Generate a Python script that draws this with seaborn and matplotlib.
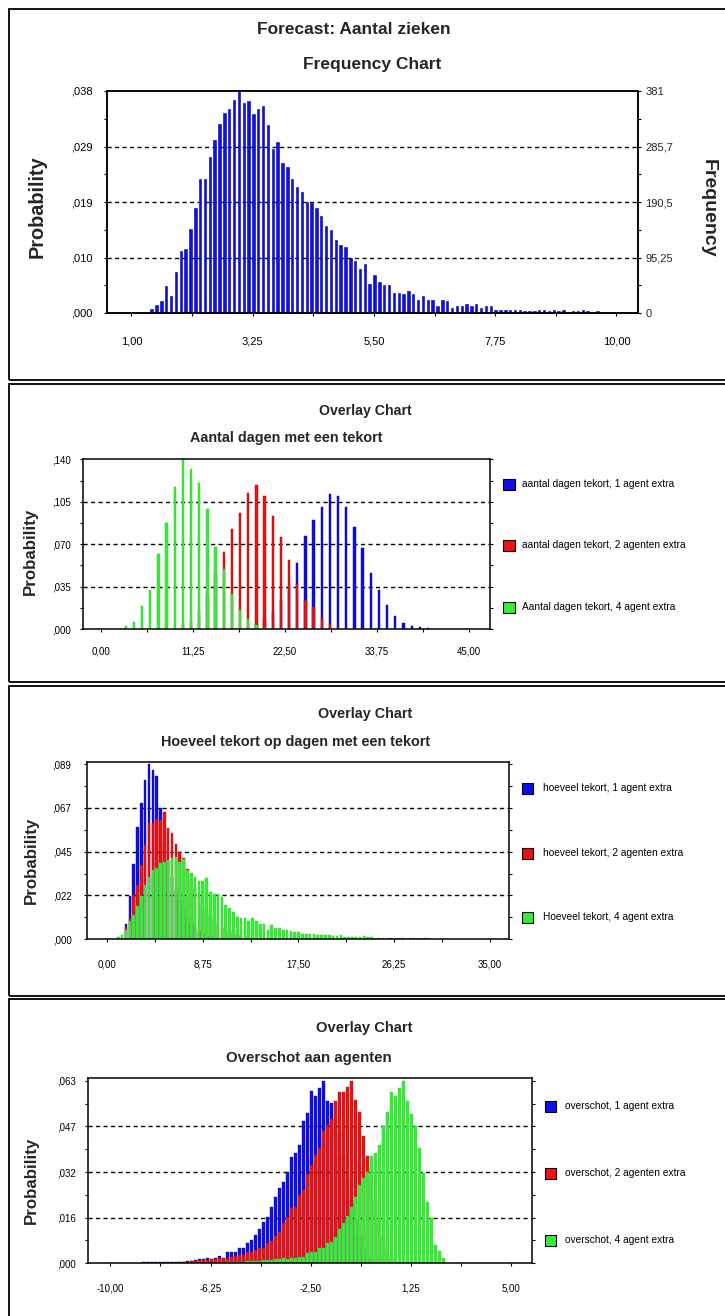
import numpy as np
import pandas as pd
import matplotlib
matplotlib.use("Agg")
import matplotlib.pyplot as plt
from matplotlib.patches import Rectangle
import seaborn as sns

# ---------------- DATA ----------------
# Panel 1: Forecast "Aantal zieken" (frequency counts out of 10000 trials)
p1_bin_start = 1.375
p1_bin_width = 0.0899
p1_counts = [7, 13, 20, 46, 29, 70, 106, 110, 145, 181, 230, 230, 267, 297, 324, 344,
             350, 366, 381, 361, 364, 342, 350, 355, 322, 281, 293, 258, 250, 230, 217,
             208, 191, 188, 180, 167, 150, 142, 126, 117, 114, 94, 89, 76, 84, 50, 65, 54,
             48, 48, 35, 35, 32, 38, 32, 23, 29, 23, 23, 12, 23, 20, 9, 12, 12, 15, 12,
             15, 9, 12, 12, 5, 6, 5, 6, 6, 6, 4, 4, 4, 6, 5, 4, 6, 4, 6, 0, 4, 4, 6, 4, 0, 3]
p1_xticks = [1.00, 3.25, 5.50, 7.75, 10.00]
p1_xticklabels = ["1,00", "3,25", "5,50", "7,75", "10,00"]
p1_yticks = [0, 95.25, 190.5, 285.75, 381]
p1_prob_labels = [",000", ",010", ",019", ",029", ",038"]
p1_freq_labels = ["0", "95,25", "190,5", "285,7", "381"]

# Panel 2: Aantal dagen met een tekort (probability per number of days)
p2_days = list(range(3, 41))
p2_agent1 = [0]*15 + [0.002, 0.004, 0.008, 0.014, 0.024, 0.035, 0.0542, 0.0767, 0.0899,
                      0.1009, 0.1114, 0.1097, 0.1009, 0.0839, 0.0666, 0.0465, 0.0322,
                      0.0198, 0.0107, 0.0047, 0.0025, 0.0014, 0.0005]
p2_agent2 = [0]*7 + [0.003, 0.006, 0.015, 0.028, 0.045, 0.0638, 0.0822, 0.0954, 0.1125,
                     0.1188, 0.1097, 0.0932, 0.0756, 0.0569, 0.0371, 0.0239, 0.0184,
                     0.0088, 0.0041, 0.002, 0.0005] + [0]*10
p2_agent4 = [0.0025, 0.0055, 0.019, 0.032, 0.0616, 0.0872, 0.1174, 0.140, 0.1318, 0.1208,
             0.099, 0.0674, 0.0495, 0.0289, 0.0157, 0.0083, 0.0033, 0.001] + [0]*20
p2_xticks = [0, 11.25, 22.5, 33.75, 45]
p2_xticklabels = ["0,00", "11,25", "22,50", "33,75", "45,00"]
p2_yticks = [0, 0.035, 0.070, 0.105, 0.140]
p2_yticklabels = [",000", ",035", ",070", ",105", ",140"]
p2_labels = ["aantal dagen tekort, 1 agent extra", "aantal dagen tekort, 2 agenten extra",
             "Aantal dagen tekort, 4 agent extra"]

# Panel 3: Hoeveel tekort op dagen met een tekort
p3_bin_start = 1.03
p3_bin_width = 0.351
p3_agent1 = [0, 0, 0.0077, 0.022, 0.0383, 0.0574, 0.0697, 0.0813, 0.0893, 0.0864, 0.083,
             0.0668, 0.05, 0.04, 0.032, 0.025, 0.02, 0.015, 0.011, 0.008, 0.006, 0.004,
             0.003, 0.002, 0.0015, 0.001] + [0]*56
p3_agent2 = [0, 0, 0.0063, 0.0106, 0.0228, 0.0276, 0.0378, 0.0481, 0.0591, 0.0591, 0.0613,
             0.0608, 0.0651, 0.0569, 0.054, 0.0484, 0.0446, 0.0415, 0.036, 0.03, 0.026,
             0.022, 0.018, 0.015, 0.012, 0.01, 0.008, 0.006, 0.005, 0.004, 0.003, 0.002,
             0.002, 0.0015, 0.001] + [0]*47
p3_agent4 = [0.0012, 0.002, 0.0049, 0.0094, 0.0126, 0.0169, 0.022, 0.0276, 0.0319, 0.0353,
             0.0361, 0.0387, 0.0395, 0.0404, 0.0412, 0.0421, 0.0395, 0.0409, 0.0353, 0.0336,
             0.0319, 0.0297, 0.0297, 0.0314, 0.0239, 0.0233, 0.0233, 0.0216, 0.0177, 0.016,
             0.014, 0.0114, 0.0111, 0.0106, 0.0095, 0.0106, 0.0094, 0.008, 0.008, 0.0049,
             0.0072, 0.0058, 0.0058, 0.0046, 0.0046, 0.0041, 0.0037, 0.0037, 0.0029, 0.0026,
             0.0025, 0.0025, 0.0022, 0.0022, 0.002, 0.002, 0.0017, 0.0017, 0.002, 0.001,
             0.001, 0.001, 0.0013, 0.0013, 0.0017, 0.001, 0.001, 0, 0.0008, 0.0008, 0.0008,
             0.0008, 0, 0, 0.0007, 0, 0.0007, 0.0007, 0, 0, 0.0007, 0.0007]
p3_xticks = [0, 8.75, 17.5, 26.25, 35]
p3_xticklabels = ["0,00", "8,75", "17,50", "26,25", "35,00"]
p3_yticks = [0, 0.02233, 0.04465, 0.06698, 0.0893]
p3_yticklabels = [",000", ",022", ",045", ",067", ",089"]
p3_labels = ["hoeveel tekort, 1 agent extra", "hoeveel tekort, 2 agenten extra",
             "Hoeveel tekort, 4 agent extra"]

# Panel 4: Overschot aan agenten
p4_bin_start = -8.77
p4_bin_width = 0.15
p4_agent1 = [0.0003, 0.0003, 0.0003, 0.0003, 0.0003, 0.0003, 0.0005, 0.0006, 0.0006, 0.0006,
             0.0006, 0.0008, 0.0008, 0.0012, 0.0014, 0.0014, 0.002, 0.0016, 0.0017, 0.0027,
             0.002, 0.004, 0.004, 0.004, 0.0052, 0.0054, 0.0069, 0.0079, 0.0098, 0.0118,
             0.0142, 0.0162, 0.0196, 0.0228, 0.026, 0.0281, 0.0318, 0.037, 0.0381, 0.041,
             0.0493, 0.052, 0.0597, 0.0578, 0.0609, 0.0632, 0.0562, 0.0554, 0.05, 0.045,
             0.038, 0.03, 0.022, 0.015, 0.009, 0.005, 0.002, 0.001] + [0]*18
p4_agent2 = [0]*9 + [0.0003, 0.0006, 0.0006, 0.0008, 0.0008, 0.001, 0.0012, 0.001, 0.0014,
                     0.0014, 0.0017, 0.002, 0.002, 0.0023, 0.0025, 0.0029, 0.0029, 0.004,
                     0.004, 0.0046, 0.0052, 0.0054, 0.0069, 0.0078, 0.0095, 0.0109, 0.0138,
                     0.0162, 0.019, 0.0196, 0.0237, 0.0254, 0.031, 0.034, 0.0375, 0.040,
                     0.046, 0.048, 0.050, 0.0562, 0.0593, 0.0593, 0.061, 0.0632, 0.0566,
                     0.0525, 0.0441, 0.0372, 0.03, 0.022, 0.015, 0.009, 0.005, 0.002] + [0]*13
p4_agent4 = [0]*21 + [0.0003, 0.0003, 0.0005, 0.0006, 0.0006, 0.0008, 0.0008, 0.0008, 0.0009,
                      0.001, 0.0011, 0.0012, 0.0014, 0.0015, 0.002, 0.0015, 0.0017, 0.002,
                      0.0023, 0.0023, 0.0035, 0.0038, 0.004, 0.0052, 0.0054, 0.0069, 0.0075,
                      0.0092, 0.0119, 0.0139, 0.0165, 0.0196, 0.0231, 0.0271, 0.0295, 0.0318,
                      0.0372, 0.0381, 0.041, 0.0477, 0.0523, 0.0595, 0.0578, 0.0609, 0.0632,
                      0.0562, 0.0516, 0.0474, 0.0401, 0.0312, 0.0211, 0.0156, 0.0063, 0.0043,
                      0.002]
p4_xticks = [-10, -6.25, -2.5, 1.25, 5]
p4_xticklabels = ["-10,00", "-6,25", "-2,50", "1,25", "5,00"]
p4_yticks = [0, 0.0158, 0.0316, 0.0474, 0.0632]
p4_yticklabels = [",000", ",016", ",032", ",047", ",063"]
p4_labels = ["overschot, 1 agent extra", "overschot, 2 agenten extra", "overschot, 4 agent extra"]

# ---------------- STYLE ----------------
sns.set_theme(style="white")
plt.rcParams['font.family'] = ['Liberation Sans', 'DejaVu Sans']
NARROW = ['Liberation Sans Narrow', 'Liberation Sans', 'DejaVu Sans']

BLUE, BLUE_E = '#0E0EF0', '#000090'
RED, RED_E = '#F01212', '#A00000'
GREEN, GREEN_E = '#36EE36', '#26C826'

W, H = 725, 1316
fig = plt.figure(figsize=(W / 100, H / 100), dpi=100)
fig.patch.set_facecolor('white')


def add_axes(l, r, t, b):
    return fig.add_axes([l / W, 1 - b / H, (r - l) / W, (b - t) / H])


def ftext(x, y, s, **kw):
    return fig.text(x / W, 1 - y / H, s, **kw)


def hist_bars(ax, centers, heights, width, shrink, face, edge, lw=0.5):
    centers = np.asarray(centers, dtype=float)
    df = pd.DataFrame({'x': centers, 'h': heights})
    df = df[df['h'] > 0]
    edges = [float(e) for e in np.append(centers - width / 2, centers[-1] + width / 2)]
    sns.histplot(data=df, x='x', weights='h', bins=edges, shrink=shrink, color=face,
                 edgecolor=edge, linewidth=lw, alpha=1, ax=ax, legend=False, zorder=2)


def style_axes(ax, xlim, ylim, xticks, xlabels, yticks, ylabels, xpad, ypad, fs,
               right_ticks=True):
    ax.set_xlim(*xlim)
    ax.set_ylim(*ylim)
    ax.set_xlabel('')
    ax.set_ylabel('')
    ax.set_facecolor('white')
    for sp in ax.spines.values():
        sp.set_visible(True)
        sp.set_color('black')
        sp.set_linewidth(1.1)
    ax.set_xticks(xticks)
    ax.set_xticklabels(xlabels)
    step = xticks[1] - xticks[0]
    ax.set_xticks([t + step / 2 for t in xticks[:-1]], minor=True)
    ax.set_yticks(yticks)
    ax.set_yticklabels(ylabels)
    ystep = yticks[1] - yticks[0]
    ax.set_yticks([t + ystep / 2 for t in yticks[:-1]], minor=True)
    ax.tick_params(axis='x', which='both', direction='out', bottom=True, top=False,
                   length=2.3, width=0.8, color='black', pad=xpad, labelsize=fs)
    ax.tick_params(axis='y', which='both', direction='out', left=True, right=right_ticks,
                   length=2.3, width=0.8, color='black', pad=ypad, labelsize=fs)
    for lab in ax.get_xticklabels() + ax.get_yticklabels():
        lab.set_fontfamily(NARROW)
        lab.set_color('black')
    for y in yticks[1:-1]:
        ax.axhline(y, color='black', ls=(0, (3, 2.4)), lw=1.0, zorder=1)
    ax.grid(False)


def panel_box(t, b):
    fig.add_artist(Rectangle((9 / W, 1 - b / H), (740 - 9) / W, (b - t) / H,
                             transform=fig.transFigure, fill=False, edgecolor='black',
                             linewidth=1.3))


def legend_items(sq_x, sq_ys, text_x, labels, colors):
    for y, lab, c in zip(sq_ys, labels, colors):
        fig.add_artist(Rectangle((sq_x / W, 1 - (y + 5.5) / H), 11.5 / W, 11 / H,
                                 transform=fig.transFigure, facecolor=c,
                                 edgecolor='black', linewidth=0.8))
        ftext(text_x, y, lab, ha='left', va='center', fontsize=7.3, family=NARROW,
              color='black')


# ---------------- PANEL FRAMES ----------------
panel_box(9, 380)
panel_box(384, 682)
panel_box(686, 996)
panel_box(999, 1330)

# ---------------- PANEL 1 ----------------
ax1 = add_axes(107.3, 638, 91, 313)
c1 = p1_bin_start + p1_bin_width * np.arange(len(p1_counts))
hist_bars(ax1, c1, p1_counts, p1_bin_width, 0.5, BLUE, BLUE_E, lw=0.4)
style_axes(ax1, (0.551, 10.40), (0, 381), p1_xticks, p1_xticklabels, p1_yticks,
           p1_prob_labels, xpad=14.5, ypad=8.5, fs=8, right_ticks=False)
ax1b = ax1.twinx()
ax1b.set_ylim(0, 381)
ax1b.set_yticks(p1_yticks)
ax1b.set_yticklabels(p1_freq_labels)
ax1b.set_yticks([t + 47.625 for t in p1_yticks[:-1]], minor=True)
ax1b.tick_params(axis='y', which='both', direction='out', right=True, left=False,
                 length=2.3, width=0.8, color='black', pad=3, labelsize=8)
for lab in ax1b.get_yticklabels():
    lab.set_fontfamily(NARROW)
for sp in ax1b.spines.values():
    sp.set_color('black')
    sp.set_linewidth(1.1)
ax1b.grid(False)
ftext(353.7, 29.3, "Forecast: Aantal zieken", ha='center', va='center', fontsize=12.5,
      fontweight='bold')
ftext(372, 64.3, "Frequency Chart", ha='center', va='center', fontsize=12.5,
      fontweight='bold')
ftext(37, 206.7, "Probability", ha='center', va='center', rotation=90, fontsize=14.3,
      fontweight='bold')
ftext(708, 208.5, "Frequency", ha='center', va='center', rotation=270, fontsize=14,
      fontweight='bold')

# ---------------- PANEL 2 ----------------
ax2 = add_axes(83.2, 490, 459.3, 629)
hist_bars(ax2, p2_days, p2_agent1, 1.0, 0.28, BLUE, BLUE_E, lw=0.3)
hist_bars(ax2, p2_days, p2_agent2, 1.0, 0.28, RED, RED_E, lw=0.3)
hist_bars(ax2, p2_days, p2_agent4, 1.0, 0.28, GREEN, GREEN_E, lw=0.3)
style_axes(ax2, (-2.2, 47.59), (0, 0.140), p2_xticks, p2_xticklabels, p2_yticks,
           p2_yticklabels, xpad=10, ypad=6.2, fs=7)
ftext(365, 411, "Overlay Chart", ha='center', va='center', fontsize=10.2, fontweight='bold')
ftext(286, 438.3, "Aantal dagen met een tekort", ha='center', va='center', fontsize=10.4,
      fontweight='bold')
ftext(30.6, 551.7, "Probability", ha='center', va='center', rotation=90, fontsize=12.2,
      fontweight='bold')
legend_items(503.3, [484, 545, 607], 522.3, p2_labels, [BLUE, RED, GREEN])

# ---------------- PANEL 3 ----------------
ax3 = add_axes(86.5, 508.5, 761.7, 939.3)
c3 = p3_bin_start + p3_bin_width * np.arange(len(p3_agent4))
hist_bars(ax3, c3, p3_agent1, p3_bin_width, 0.68, BLUE, BLUE_E, lw=0.25)
hist_bars(ax3, c3, p3_agent2, p3_bin_width, 0.68, RED, RED_E, lw=0.25)
hist_bars(ax3, c3, p3_agent4, p3_bin_width, 0.68, GREEN, GREEN_E, lw=0.25)
style_axes(ax3, (-1.88, 36.73), (0, 0.0905), p3_xticks, p3_xticklabels, p3_yticks,
           p3_yticklabels, xpad=12, ypad=8.5, fs=7)
ftext(365, 714.3, "Overlay Chart", ha='center', va='center', fontsize=10.4, fontweight='bold')
ftext(296, 742.3, "Hoeveel tekort op dagen met een tekort", ha='center', va='center',
      fontsize=10.4, fontweight='bold')
ftext(31, 860, "Probability", ha='center', va='center', rotation=90, fontsize=12.2,
      fontweight='bold')
legend_items(521.5, [788.3, 853, 917], 543.2, p3_labels, [BLUE, RED, GREEN])

# ---------------- PANEL 4 ----------------
ax4 = add_axes(87.8, 531.7, 1078.3, 1263.3)
c4 = p4_bin_start + p4_bin_width * np.arange(len(p4_agent1))
hist_bars(ax4, c4, p4_agent1, p4_bin_width, 0.64, BLUE, BLUE_E, lw=0.25)
hist_bars(ax4, c4, p4_agent2, p4_bin_width, 0.64, RED, RED_E, lw=0.25)
hist_bars(ax4, c4, p4_agent4, p4_bin_width, 0.64, GREEN, GREEN_E, lw=0.25)
style_axes(ax4, (-10.85, 5.79), (0, 0.0641), p4_xticks, p4_xticklabels, p4_yticks,
           p4_yticklabels, xpad=12.5, ypad=6.5, fs=7)
ftext(363.8, 1028.3, "Overlay Chart", ha='center', va='center', fontsize=10.6,
      fontweight='bold')
ftext(308.8, 1057.7, "Overschot aan agenten", ha='center', va='center', fontsize=10.8,
      fontweight='bold')
ftext(31.5, 1180.7, "Probability", ha='center', va='center', rotation=90, fontsize=12.2,
      fontweight='bold')
legend_items(544.6, [1106, 1173, 1240], 565, p4_labels, [BLUE, RED, GREEN])

fig.savefig("out.png", dpi=100, facecolor='white')
